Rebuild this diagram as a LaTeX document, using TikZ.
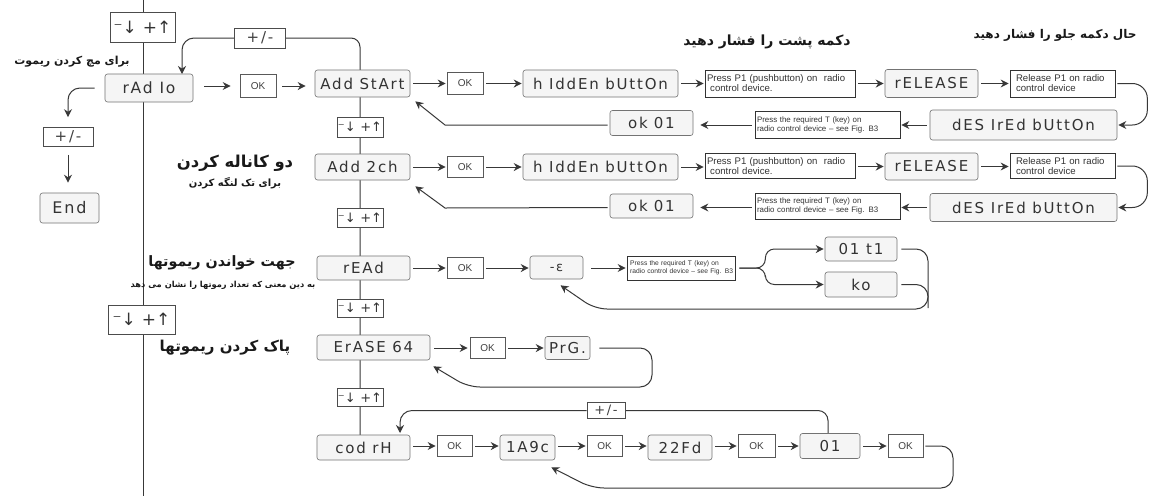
\documentclass[tikz,border=0pt]{standalone}
\usepackage{fontspec}
\setmainfont{Liberation Sans}
\newfontfamily\lcdfont[LetterSpace=12]{DejaVu Sans}
\newfontfamily\symfont{DejaVu Sans}
\newfontfamily\fa[Script=Arabic]{DejaVu Sans}
\TeXXeTstate=1
\usetikzlibrary{arrows.meta,backgrounds,calc}
\newcommand{\udsym}{⁻↓\hspace{0.35em}+↑}
\tikzset{
  lcd/.style={draw=black!55, line width=0.6pt, fill=black!4, rounded corners=2.5pt,
    font=\lcdfont\fontsize{15}{16}\selectfont, text=black!80, inner sep=0pt},
  okb/.style={draw=black!65, line width=0.7pt, fill=white,
    font=\fontsize{10}{11}\selectfont, text=black!75, inner sep=0pt},
  txtb/.style={draw=black!80, line width=0.7pt, fill=white,
    font=\fontsize{9.6}{10}\selectfont, align=left, inner sep=2pt, text=black!80},
  txtr/.style={txtb, font=\fontsize{7.9}{8.8}\selectfont},
  udb/.style={draw=black!70, line width=0.6pt, fill=white, text=black!80,
    font=\symfont\fontsize{13}{14}\selectfont, inner sep=0pt},
  pmb/.style={draw=black!70, line width=0.6pt, fill=white, text=black!75,
    font=\lcdfont\fontsize{15}{16}\selectfont, inner sep=0pt},
  conn/.style={draw=black!78, line width=1pt},
  tip/.style={-{Stealth[length=8pt,width=8pt]}},
  arr/.style={conn, tip, shorten <=3pt, shorten >=1pt},
  fat/.style={font=\fa\bfseries\fontsize{14}{16}\selectfont, text=black!90, inner sep=0pt},
}
\begin{document}
\begin{tikzpicture}[x=1pt,y=-1pt]
\useasboundingbox (0,0) rectangle (1151,496);

% ---------- left column ----------
\node[udb, minimum width=65pt, minimum height=30pt, font=\symfont\fontsize{17}{18}\selectfont] (ud0) at (142.5,27) {\udsym};
\node[pmb, minimum width=51pt, minimum height=20pt] (plus0) at (260,38) {+/-};
\node[lcd, minimum width=88pt, minimum height=28pt, font=\lcdfont\fontsize{15.5}{16}\selectfont] (radio) at (149,88) {rAd Io};
\node[okb, minimum width=36pt, minimum height=23pt] (okr) at (258,86) {OK};
\node[pmb, minimum width=50pt, minimum height=19pt] (plusL) at (68,137) {+/-};
\node[lcd, minimum width=59pt, minimum height=30pt, font=\lcdfont\fontsize{16}{17}\selectfont] (end) at (69.5,208) {End};
\node[udb, minimum width=67pt, minimum height=29pt, font=\symfont\fontsize{17}{18}\selectfont] (udm) at (141.5,319.5) {\udsym};
\coordinate (ltop) at (143,0);
\coordinate (lbot) at (143,496);

% ---------- row 1 ----------
\node[lcd, minimum width=95pt, minimum height=27pt] (addstart) at (362.5,83.5) {Add StArt};
\node[okb, minimum width=36pt, minimum height=22pt] (ok1) at (465,83.5) {OK};
\node[lcd, minimum width=155pt, minimum height=27pt] (hidden1) at (600.5,83.5) {h IddEn bUttOn};
\node[txtb, minimum width=150pt, minimum height=27pt, text width=146pt] (press1) at (780,83.5) {Press P1 (pushbutton) on\ \ radio\\\ control device.};
\node[lcd, minimum width=93pt, minimum height=28pt] (release1) at (931.5,83.5) {rELEASE};
\node[txtb, minimum width=105pt, minimum height=27pt, text width=101pt] (rel1) at (1062.5,83.5) {\hspace{4pt}Release P1 on radio\\\hspace{4pt}control device};
\node[lcd, minimum width=187pt, minimum height=30pt] (desired1) at (1023.5,125) {dES IrEd bUttOn};
\node[txtr, minimum width=145pt, minimum height=27pt, text width=141pt] (req1) at (827.5,125) {Press the required T (key) on\\radio control device -- see Fig. B3};
\node[lcd, minimum width=83pt, minimum height=25pt] (ok01a) at (651.5,123) {ok\hspace{6pt}01};
\node[udb, minimum width=46pt, minimum height=20pt] (ud1) at (360,127) {\udsym};

% ---------- row 2 ----------
\node[lcd, minimum width=95pt, minimum height=26pt] (add2ch) at (362.5,167) {Add 2ch};
\node[okb, minimum width=36pt, minimum height=21pt] (ok2) at (465,167) {OK};
\node[lcd, minimum width=155pt, minimum height=26pt] (hidden2) at (600.5,167) {h IddEn bUttOn};
\node[txtb, minimum width=150pt, minimum height=25pt, text width=146pt] (press2) at (780,166) {Press P1 (pushbutton) on\ \ radio\\\ control device.};
\node[lcd, minimum width=93pt, minimum height=27pt] (release2) at (931.5,166.5) {rELEASE};
\node[txtb, minimum width=105pt, minimum height=25pt, text width=101pt] (rel2) at (1062.5,166) {\hspace{4pt}Release P1 on radio\\\hspace{4pt}control device};
\node[lcd, minimum width=187pt, minimum height=28pt] (desired2) at (1023.5,207.5) {dES IrEd bUttOn};
\node[txtr, minimum width=145pt, minimum height=26pt, text width=141pt] (req2) at (827.5,206) {Press the required T (key) on\\radio control device -- see Fig. B3};
\node[lcd, minimum width=83pt, minimum height=24pt] (ok01b) at (651.5,206) {ok\hspace{6pt}01};
\node[udb, minimum width=46pt, minimum height=19pt] (ud2) at (360,218) {\udsym};

% ---------- row 3 ----------
\node[lcd, minimum width=93pt, minimum height=24pt] (read) at (363.5,268) {rEAd};
\node[okb, minimum width=36pt, minimum height=21pt] (ok3) at (465,268) {OK};
\node[lcd, minimum width=53pt, minimum height=23pt, font=\lcdfont\fontsize{13}{14}\selectfont] (eps) at (556.5,267.5) {-ε\hspace{24pt}};
\node[txtr, minimum width=108pt, minimum height=24pt, text width=106pt, inner sep=1pt, font=\fontsize{6.7}{7.8}\selectfont] (req3) at (681,268) {\ Press the required T (key) on\\\ radio control device -- see Fig. B3};
\node[lcd, minimum width=72pt, minimum height=24pt] (d01t1) at (861,249) {01 t1};
\node[lcd, minimum width=72pt, minimum height=25pt] (ko) at (861,284.5) {ko};
\node[udb, minimum width=46pt, minimum height=18pt] (ud3) at (360,308) {\udsym};

% ---------- row 4 ----------
\node[lcd, minimum width=113pt, minimum height=25pt] (erase) at (373.5,347.5) {ErASE 64};
\node[okb, minimum width=35pt, minimum height=21pt] (ok4) at (487.5,348) {OK};
\node[lcd, minimum width=45pt, minimum height=23pt] (prg) at (567.5,348) {PrG.};
\node[udb, minimum width=46pt, minimum height=18pt] (ud4) at (360,397.5) {\udsym};
\node[pmb, minimum width=38pt, minimum height=16pt, font=\lcdfont\fontsize{13}{14}\selectfont] (plus4) at (606,410.5) {+/-};

% ---------- row 5 ----------
\node[lcd, minimum width=93pt, minimum height=25pt] (codrh) at (363.5,447.5) {cod rH\hspace{28pt}};
\node[okb, minimum width=35pt, minimum height=21pt] (ok5) at (454.5,446) {OK};
\node[lcd, minimum width=55pt, minimum height=25pt] (a19c) at (527.5,447.5) {1A9c};
\node[okb, minimum width=35pt, minimum height=21pt] (ok6) at (604.5,446) {OK};
\node[lcd, minimum width=64pt, minimum height=25pt] (fd22) at (680,447.5) {22Fd};
\node[okb, minimum width=37pt, minimum height=23pt] (ok7) at (756.5,446) {OK};
\node[lcd, minimum width=60pt, minimum height=25pt] (d01) at (830,446) {01\hspace{24pt}};
\node[okb, minimum width=35pt, minimum height=23pt] (ok8) at (905.5,446) {OK};
\coordinate (v2) at (360,436);
\coordinate (d01in) at (828,434);
\coordinate (radin) at (182,74);
\coordinate (codin) at (400,435);

% ---------- Persian labels ----------
\node[fat, font=\fa\bfseries\fontsize{11}{12}\selectfont] (tmatch) at (72,62) {\beginR برای مچ کردن ریموت\endR};
\node[fat, font=\fa\bfseries\fontsize{16.4}{18}\selectfont] (t2ch) at (235,163) {\beginR دو کاناله کردن\endR};
\node[fat, font=\fa\bfseries\fontsize{10}{11}\selectfont] (t1ch) at (235,183) {\beginR برای تک لنگه کردن\endR};
\node[fat, font=\fa\bfseries\fontsize{14.3}{16}\selectfont] (tread) at (222,263) {\beginR جهت خواندن ریموتها\endR};
\node[fat, font=\fa\bfseries\fontsize{8.3}{9}\selectfont] (treadsub) at (223,285) {\beginR به دین معنی که تعداد رموتها را نشان می دهد\endR};
\node[fat, font=\fa\bfseries\fontsize{15}{16}\selectfont] (terase) at (225,348) {\beginR پاک کردن ریموتها\endR};
\node[fat] (tback) at (767,42) {\beginR دکمه پشت را فشار دهید\endR};
\node[fat, font=\fa\bfseries\fontsize{12}{13}\selectfont] (tfront) at (1055,35) {\beginR حال دکمه جلو را فشار دهید\endR};

\begin{pgfonlayer}{background}
\fill[white] (0,0) rectangle (1151,496);
% vertical spines
\draw[conn] (ltop) -- (lbot);
\draw[conn, rounded corners=9pt] (plus0.east) -| (v2);
% top loop into radio
\draw[conn, tip, rounded corners=12pt] (plus0.west) -| (radin);
% left branch
\draw[conn, tip, rounded corners=12pt, shorten >=10pt] ([xshift=-10pt]radio.west) -| (plusL.north);
\draw[arr, shorten <=8pt, shorten >=10pt] (plusL.south) -- (plusL.south |- end.north);
% radio row
\draw[arr, shorten <=11pt, shorten >=9pt] (radio.east |- okr.west) -- (okr.west);
\draw[arr, shorten <=6pt, shorten >=9pt] (okr.east) -- (addstart.west |- okr.east);
% row 1
\draw[arr] (addstart.east) -- (ok1.west);
\draw[arr] (ok1.east) -- (hidden1.west);
\draw[arr] (hidden1.east) -- (press1.west);
\draw[arr] (press1.east) -- (release1.west);
\draw[arr] (release1.east) -- (rel1.west);
\draw[conn, tip, rounded corners=15pt, shorten >=1pt] ([xshift=2pt]rel1.east) -- ([xshift=32pt]rel1.east) |- (desired1.east);
\draw[arr] (desired1.west) -- (req1.east |- desired1.west);
\draw[arr, shorten >=7pt] (req1.west) -- (ok01a.east |- req1.west);
\draw[conn, tip, shorten <=2pt] (ok01a.west |- req1.west) -- (445,125) -- ($(addstart.south east)+(5,4)$);
% row 2
\draw[arr] (add2ch.east) -- (ok2.west);
\draw[arr] (ok2.east) -- (hidden2.west);
\draw[arr] (hidden2.east) -- (press2.west |- hidden2.east);
\draw[arr] (press2.east |- release2.west) -- (release2.west);
\draw[arr] (release2.east) -- (rel2.west |- release2.east);
\draw[conn, tip, rounded corners=15pt, shorten >=1pt] ([xshift=2pt]rel2.east) -- ([xshift=32pt]rel2.east) |- (desired2.east);
\draw[arr] (desired2.west) -- (req2.east |- desired2.west);
\draw[arr, shorten >=7pt] (req2.west |- desired2.west) -- (ok01b.east |- desired2.west);
\draw[conn, tip, shorten <=2pt] (ok01b.west |- desired2.west) -- (445,208) -- ($(add2ch.south east)+(5,6)$);
% row 3
\draw[arr] (read.east) -- (ok3.west);
\draw[arr] (ok3.east) -- (eps.west |- ok3.east);
\draw[arr, shorten <=8pt] (eps.east |- req3.west) -- (req3.west);
\draw[conn, tip, rounded corners=9pt, shorten >=1pt] ([xshift=4pt]req3.east) -- ([xshift=30pt]req3.east) |- (d01t1.west);
\draw[conn, tip, rounded corners=9pt, shorten >=1pt] ([xshift=4pt]req3.east) -- ([xshift=30pt]req3.east) |- (ko.west);
\draw[conn, rounded corners=12pt] ([xshift=4pt]ko.east) -| (928,308);
\draw[conn, tip, rounded corners=12pt] ([xshift=4pt]d01t1.east) -| (928,309) -- (595,309) -- ($(eps.south)+(4,6)$);
% row 4
\draw[arr, shorten <=4pt, shorten >=2pt] (erase.east |- ok4.west) -- (ok4.west);
\draw[arr] (ok4.east) -- (prg.west |- ok4.east);
\draw[conn, tip, rounded corners=12pt] ([xshift=9pt]prg.east) -| (652,387) -- (468,387) -- ($(erase.south east)+(3,6)$);
% row 5 loop from +/-
\draw[conn, tip, rounded corners=12pt, shorten >=2pt] (plus4.west) -| (codin);
\draw[conn, rounded corners=10pt] (plus4.east) -| (d01in);
\draw[arr] (codrh.east |- ok5.west) -- (ok5.west);
\draw[arr] (ok5.east) -- (a19c.west |- ok5.east);
\draw[arr] (a19c.east |- ok6.west) -- (ok6.west);
\draw[arr] (ok6.east) -- (fd22.west |- ok6.east);
\draw[arr] (fd22.east |- ok7.west) -- (ok7.west);
\draw[arr] (ok7.east) -- (d01.west |- ok7.east);
\draw[arr] (d01.east |- ok8.west) -- (ok8.west);
\draw[conn, tip, rounded corners=12pt, shorten <=2pt] (ok8.east) -| (953,488) -- (592,488) -- ($(a19c.south east)+(-4,7)$);
\end{pgfonlayer}
\end{tikzpicture}
\end{document}
